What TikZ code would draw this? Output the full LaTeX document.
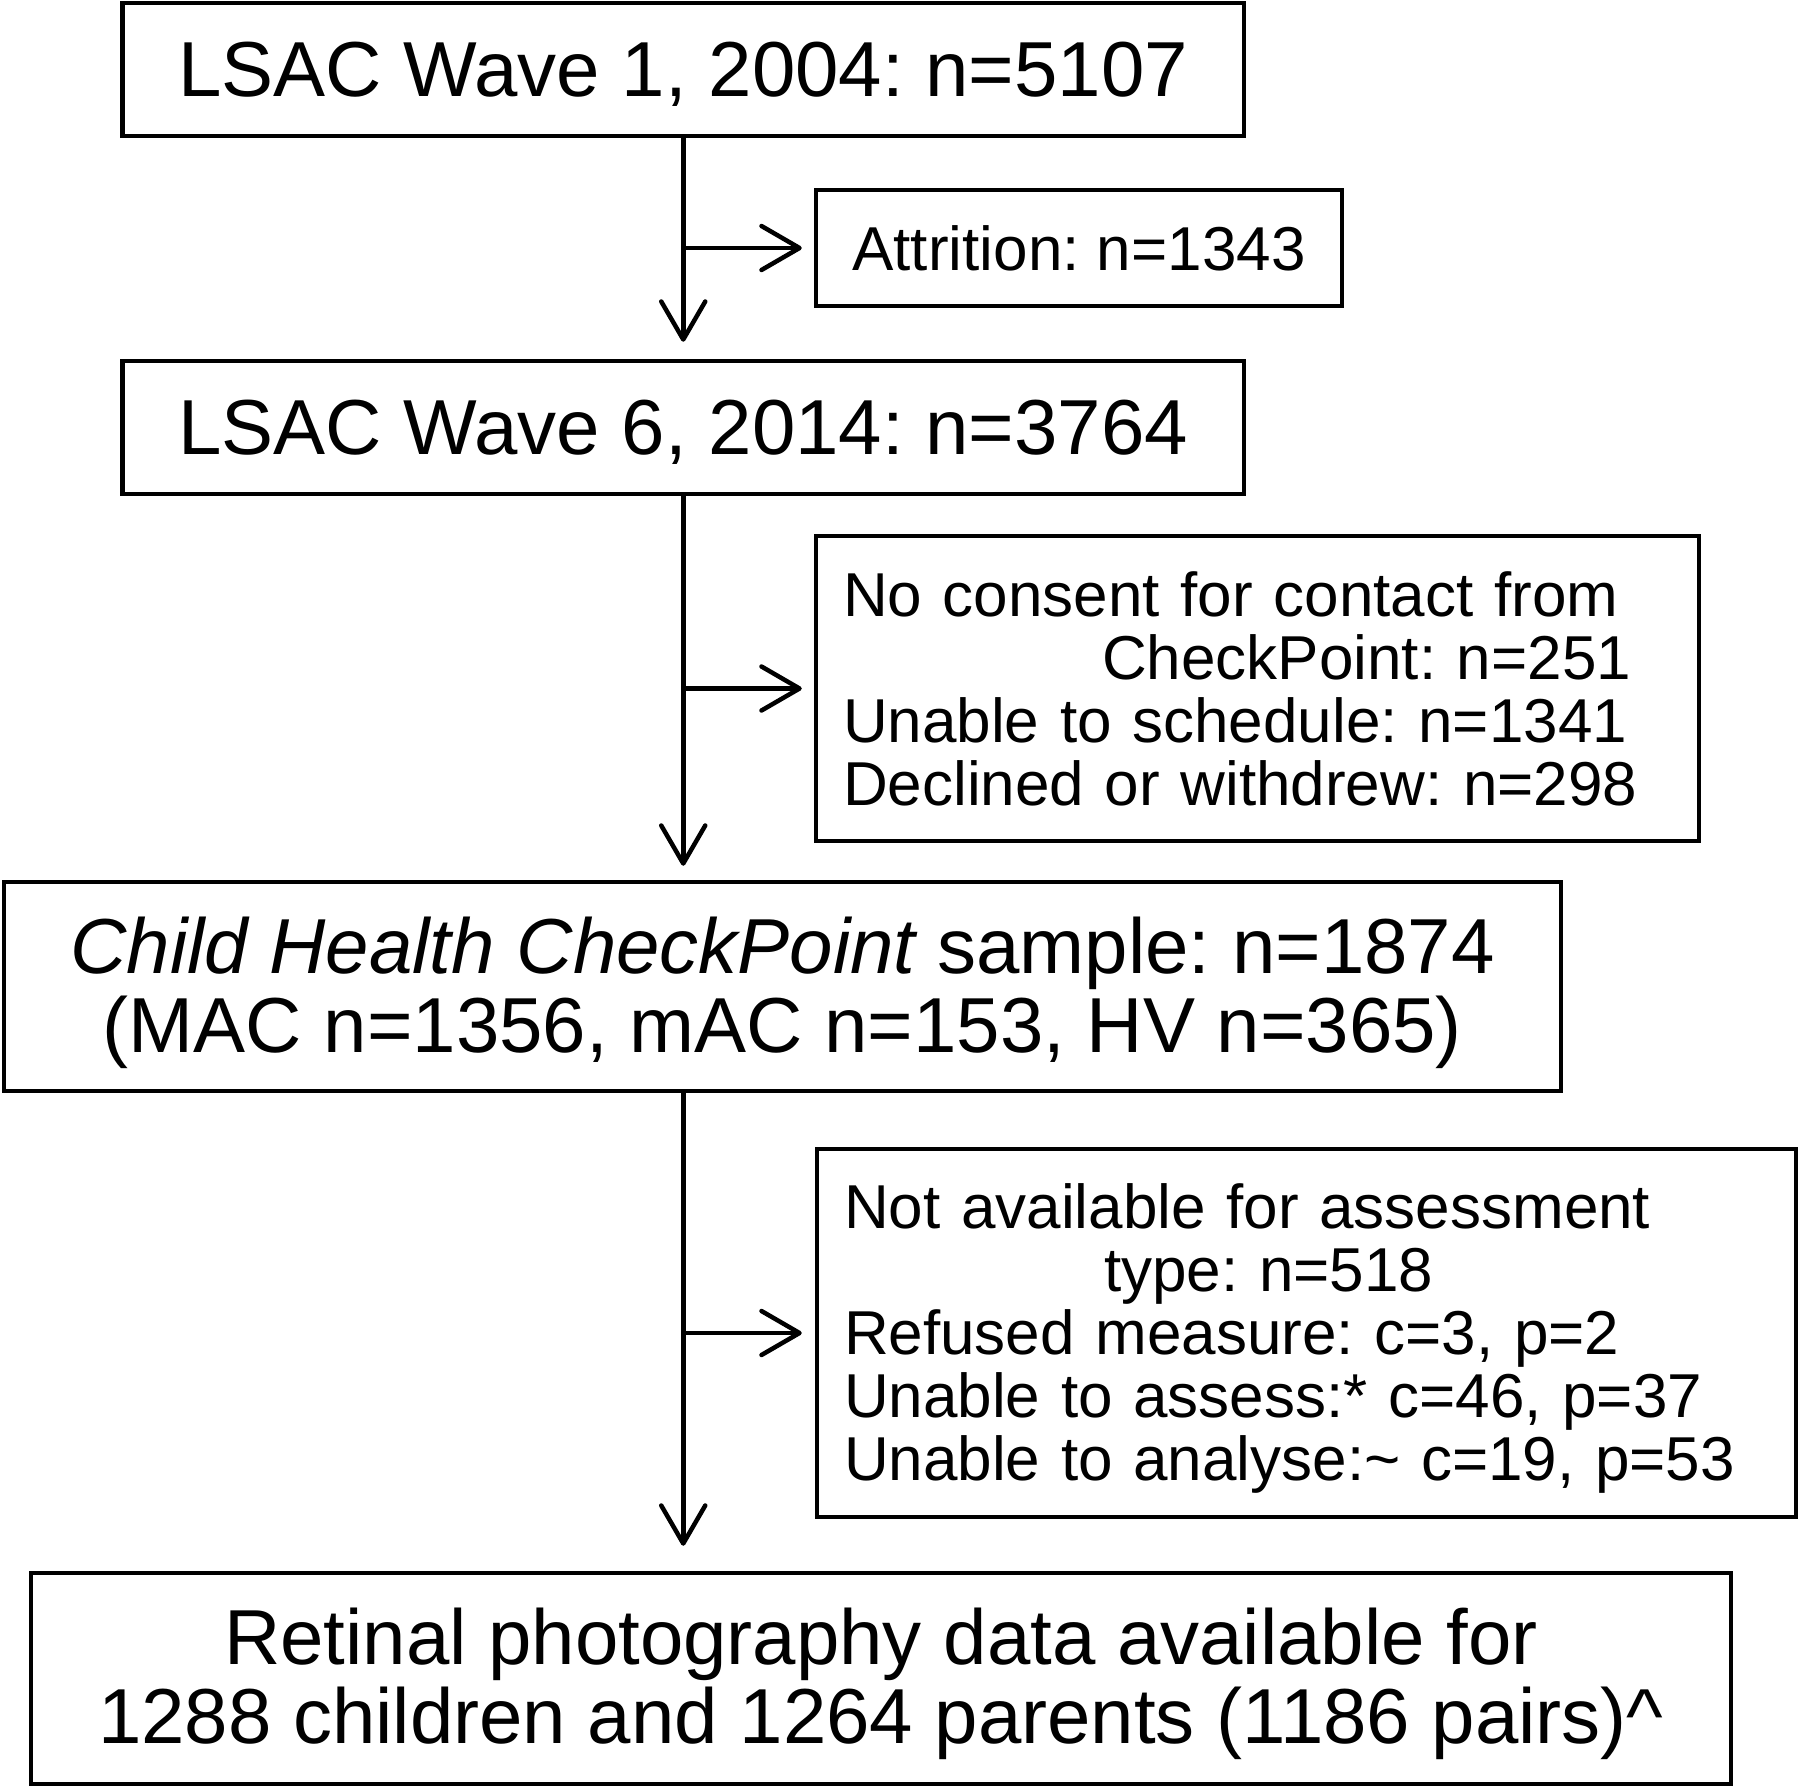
\documentclass[tikz,border=0pt]{standalone}
\usepackage{fontspec}
\setmainfont{Liberation Sans}
\usetikzlibrary{arrows.meta}
\tikzset{
  box/.style={draw, line width=4.5pt, inner sep=0pt, align=center},
  bigtxt/.style={font=\fontsize{78}{79}\selectfont\frenchspacing},
  smalltxt/.style={font=\fontsize{62}{63}\selectfont\frenchspacing},
  flow/.style={line width=4.5pt, -{Straight Barb[length=38pt,width=44pt,round]}},
}
\newcommand{\topstrut}[1]{\rule{0pt}{#1}}
\begin{document}
\begin{tikzpicture}[x=1pt,y=-1pt]
\useasboundingbox (0,0) rectangle (1800,1788);
\node[box, bigtxt, text depth=0pt, minimum width=1121.5pt, minimum height=133pt] (b1) at (683.25,69.5)
  {LSAC Wave 1, 2004: n=5107};
\node[box, smalltxt, text depth=0pt, minimum width=526pt, minimum height=116pt] (att) at (1079,248)
  {Attrition: n=1343};
\node[box, bigtxt, text depth=0pt, minimum width=1121.5pt, minimum height=133pt] (b2) at (683.25,427.5)
  {LSAC Wave 6, 2014: n=3764};
\node[box, smalltxt, minimum width=883pt, minimum height=305pt, text width=829pt, align=left] (ex1) at (1257.5,688.5)
  {No consent for contact from\\
   \hspace*{259pt}CheckPoint: n=251\\
   Unable to schedule: n=1341\\
   Declined or withdrew: n=298};
\node[box, bigtxt, minimum width=1557pt, minimum height=209pt] (b4) at (782.5,986.5)
  {\topstrut{69pt}\itshape Child Health CheckPoint\upshape{} sample: n=1874\\
   (MAC n=1356, mAC n=153, HV n=365)};
\node[box, smalltxt, minimum width=979pt, minimum height=368pt, text width=925pt, align=left] (ex2) at (1306.5,1333)
  {\topstrut{56pt}Not available for assessment\\
   \hspace*{260pt}type: n=518\\
   Refused measure: c=3, p=2\\
   Unable to assess:* c=46, p=37\\
   Unable to analyse:\textasciitilde{} c=19, p=53};
\node[box, bigtxt, minimum width=1700pt, minimum height=211pt] (b6) at (881,1678.5)
  {\topstrut{67pt}Retinal photography data available for\\
   1288 children and 1264 parents (1186 pairs)\textasciicircum};
% main flow
\coordinate (m2) at (b1.south |- b4.north);
\coordinate (m3) at (b1.south |- b4.south);
\coordinate (m4) at (b1.south |- b6.north);
\draw[flow, shorten >=17pt] (b1.south) -- (b2.north);
\draw[flow, shorten >=14pt] (b2.south) -- (m2);
\draw[flow, shorten >=25pt] (m3) -- (m4);
% side arrows
\draw[flow, shorten >=12pt] (b1.south |- att.west) -- (att.west);
\draw[flow, shorten >=12pt] (b1.south |- ex1.west) -- (ex1.west);
\draw[flow, shorten >=13pt] (b1.south |- ex2.west) -- (ex2.west);
\end{tikzpicture}
\end{document}
